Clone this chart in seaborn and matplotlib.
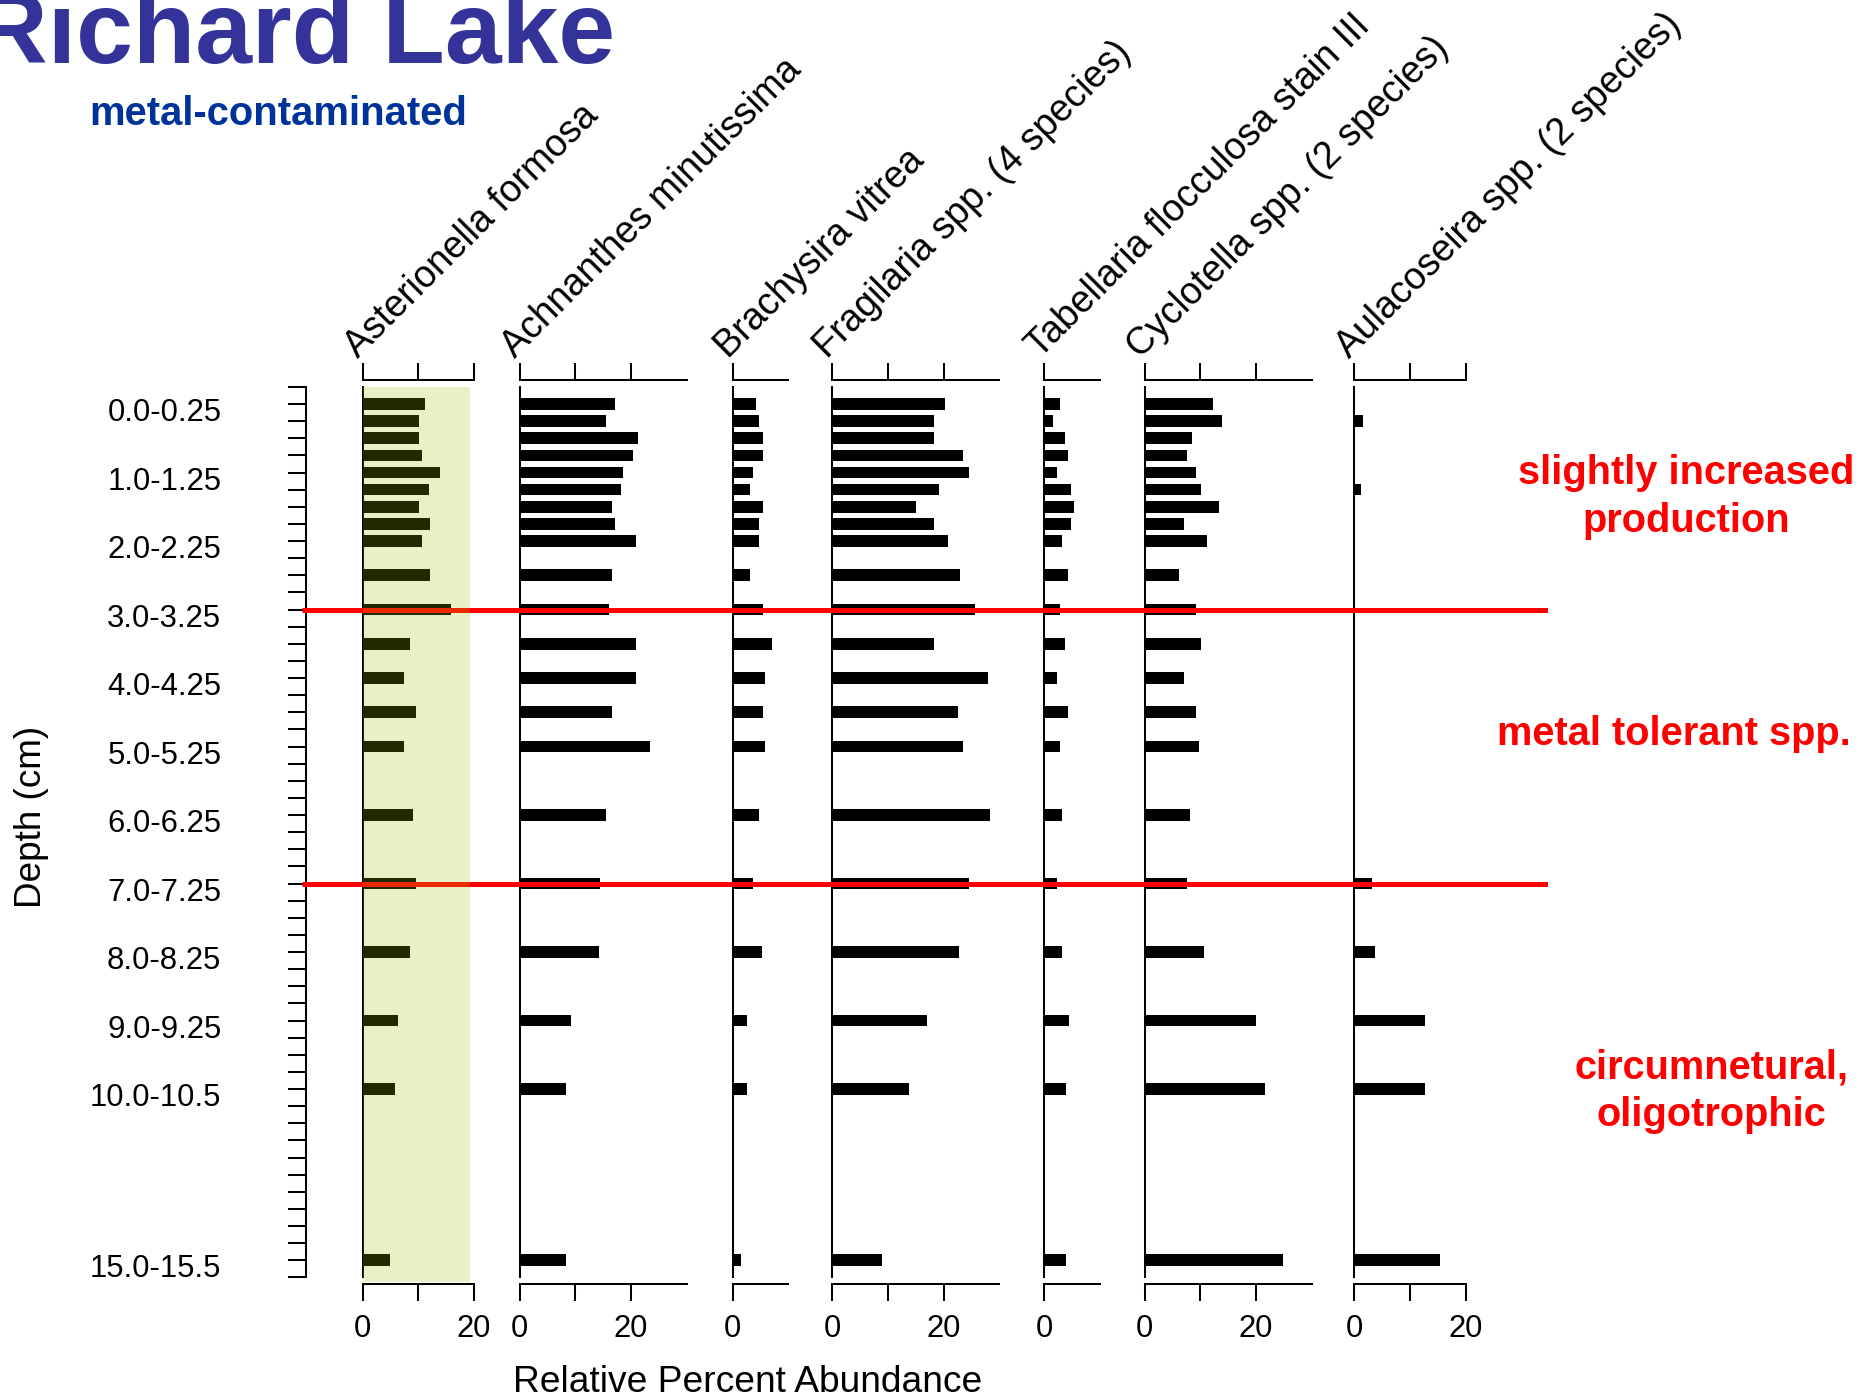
import numpy as np
import pandas as pd
import matplotlib
matplotlib.use("Agg")
import matplotlib.pyplot as plt
import matplotlib.transforms as mtransforms
from matplotlib.patches import Rectangle
import seaborn as sns

# ---- sediment core samples (depth of top of slice, cm) ----
depths = [0.0, 0.25, 0.5, 0.75, 1.0, 1.25, 1.5, 1.75, 2.0, 2.5, 3.0,
          3.5, 4.0, 4.5, 5.0, 6.0, 7.0, 8.0, 9.0, 10.0, 15.0]

label_depths = [0, 1, 2, 3, 4, 5, 6, 7, 8, 9, 10, 15]
depth_labels = ["0.0-0.25", "1.0-1.25", "2.0-2.25", "3.0-3.25", "4.0-4.25",
                "5.0-5.25", "6.0-6.25", "7.0-7.25", "8.0-8.25", "9.0-9.25",
                "10.0-10.5", "15.0-15.5"]

taxa = ["Asterionella formosa", "Achnanthes minutissima", "Brachysira vitrea",
        "Fragilaria spp. (4 species)", "Tabellaria flocculosa stain III",
        "Cyclotella spp. (2 species)", "Aulacoseira spp. (2 species)"]

# relative percent abundance per sample
asterionella = [11.2, 10.2, 10.2, 10.7, 13.8, 11.9, 10.2, 12.1, 10.7, 12.1, 15.8,
                8.5, 7.4, 9.6, 7.4, 9.1, 9.6, 8.5, 6.4, 5.9, 4.9]
achnanthes = [17.1, 15.5, 21.3, 20.3, 18.6, 18.2, 16.6, 17.1, 20.8, 16.6, 16.1,
              20.8, 20.8, 16.6, 23.4, 15.5, 14.4, 14.2, 9.2, 8.3, 8.3]
brachysira = [4.3, 4.8, 5.4, 5.4, 3.7, 3.2, 5.4, 4.8, 4.8, 3.2, 5.4,
              7.0, 5.9, 5.4, 5.9, 4.8, 3.7, 5.3, 2.6, 2.6, 1.6]
fragilaria = [20.3, 18.3, 18.3, 23.5, 24.6, 19.2, 15.0, 18.3, 20.8, 23.0, 25.7,
              18.3, 27.9, 22.5, 23.5, 28.4, 24.6, 22.7, 17.0, 13.8, 9.0]
tabellaria = [2.8, 1.7, 3.8, 4.3, 2.3, 4.8, 5.4, 4.8, 3.2, 4.3, 2.8,
              3.8, 2.3, 4.3, 2.8, 3.2, 2.3, 3.3, 4.4, 3.9, 3.9]
cyclotella = [12.3, 13.9, 8.6, 7.6, 9.2, 10.2, 13.4, 7.1, 11.2, 6.1, 9.2,
              10.2, 7.1, 9.2, 9.7, 8.1, 7.6, 10.6, 20.0, 21.6, 24.8]
aulacoseira = [0, 1.7, 0, 0, 0, 1.2, 0, 0, 0, 0, 0,
               0, 0, 0, 0, 0, 3.3, 3.8, 12.8, 12.8, 15.4]

axis_max = [20, 30, 10, 30, 10, 30, 20]

zone_boundaries = [3.0, 7.0]
zone_notes = ["slightly increased\nproduction", "metal tolerant spp.",
              "circumnetural,\noligotrophic"]
highlight_span = (0, 19.3)   # shaded range on the Asterionella panel

# ---- styling ----
sns.set_style("ticks", rc={"axes.edgecolor": "black", "xtick.color": "black",
                           "ytick.color": "black", "text.color": "black",
                           "axes.labelcolor": "black"})
plt.rcParams["font.family"] = ["Liberation Sans", "DejaVu Sans"]

W, H = 1862, 1398
fig = plt.figure(figsize=(W / 100, H / 100), dpi=100)


def fx(px):
    return px / W


def fy(px):
    return 1 - px / H


def depth_pos(d):
    # to scale down to 10 cm, the deepest interval drawn at half scale
    return np.interp(d, [0, 10, 15], [0, 10, 12.5])


pos_top, pos_bottom = -0.25, 12.75
y_top_px, y_bot_px = 386.9, 1277.4
ax_bottom = fy(y_bot_px)
ax_height = (y_bot_px - y_top_px) / H
px_per_unit = 5.58
panel_left_px = [362.5, 519.5, 732.5, 832, 1044, 1144.5, 1354]
LW = 1.45

samples = pd.DataFrame({"depth": depths})
samples["pos"] = depth_pos(samples["depth"].to_numpy())
series = [asterionella, achnanthes, brachysira, fragilaria,
          tabellaria, cyclotella, aulacoseira]

axes = []
for name, vals, xmax, left in zip(taxa, series, axis_max, panel_left_px):
    ax = fig.add_axes([fx(left), ax_bottom, xmax * px_per_unit / W, ax_height])
    df = samples.assign(pct=vals)
    sns.barplot(data=df, x="pct", y="pos", orient="y", native_scale=True,
                color="black", width=0.68, errorbar=None, saturation=1,
                linewidth=0, ax=ax)
    ax.set_xlim(0, xmax)
    ax.set_ylim(pos_bottom, pos_top)
    ax.set(xlabel="", ylabel="")
    ax.set_yticks([])
    ticks = [0, 10, 20] if xmax >= 20 else [0]
    ax.set_xticks(ticks)
    ax.set_xticklabels(["" if t == 10 else str(t) for t in ticks])
    ax.tick_params(axis="x", which="both", top=True, bottom=True,
                   labeltop=False, labelbottom=True, direction="out",
                   length=12, width=LW, labelsize=22.3, pad=9)
    ax.tick_params(axis="y", left=False, labelleft=False)
    ax.spines["right"].set_visible(False)
    for side in ("top", "bottom"):
        ax.spines[side].set_position(("outward", 5))
    for sp in ax.spines.values():
        sp.set_linewidth(LW)
    ax.patch.set_alpha(0)
    ax.annotate(name, xy=(0, 1), xycoords="axes fraction", xytext=(-3, 20),
                textcoords="offset points", rotation=45, rotation_mode="anchor",
                ha="left", va="baseline", fontsize=27)
    axes.append(ax)

# ---- depth axis ----
ax0 = fig.add_axes([fx(306), ax_bottom, 0.0005, ax_height])
ax0.set_ylim(pos_bottom, pos_top)
ax0.set_xticks([])
for side in ("right", "top", "bottom"):
    ax0.spines[side].set_visible(False)
ax0.spines["left"].set_linewidth(LW)
ax0.set_yticks(depth_pos(np.array(label_depths, dtype=float)))
ax0.set_yticklabels(depth_labels)
ax0.set_yticks(np.arange(pos_top, pos_bottom + 0.01, 0.25), minor=True)
ax0.tick_params(axis="y", which="both", direction="out", length=13, width=LW)
ax0.tick_params(axis="y", which="major", pad=48, labelsize=22.3)
ax0.patch.set_alpha(0)
shift = mtransforms.ScaledTranslation(0, -5.5 / 100, fig.dpi_scale_trans)
for lab in ax0.get_yticklabels():
    lab.set_transform(lab.get_transform() + shift)

# ---- zone boundaries across all panels ----
ax_zone = fig.add_axes([fx(302), ax_bottom, (1548 - 302) / W, ax_height])
ax_zone.set_xlim(0, 1)
ax_zone.set_ylim(pos_bottom, pos_top)
ax_zone.axis("off")
ax_zone.set_zorder(5)
for z in zone_boundaries:
    ax_zone.axhline(depth_pos(z), color="#FF0000", lw=3.6, solid_capstyle="butt")

# ---- shaded Asterionella column ----
trans = mtransforms.blended_transform_factory(axes[0].transData, axes[0].transAxes)
shade = Rectangle((highlight_span[0], -0.005), highlight_span[1] - highlight_span[0],
                  1.005, transform=trans, facecolor="#9BBF00", alpha=0.22,
                  edgecolor="none", zorder=10)
fig.add_artist(shade)

# ---- text ----
fig.text(fx(-26.5), fy(63), "Richard Lake", fontsize=73.5, fontweight="bold",
         color="#333399", ha="left", va="baseline")
fig.text(fx(89), fy(125), "metal-contaminated", fontsize=28.8, fontweight="bold",
         color="#003399", ha="left", va="baseline")
fig.text(fx(32), fy(817), "Depth (cm)", fontsize=26.6, rotation=90,
         ha="center", va="center")
fig.text(fx(748), fy(1382), "Relative Percent Abundance", fontsize=26.7,
         ha="center", va="center")

note_xy = [(1686, 497), (1674, 734), (1711, 1091)]
for txt, (x, y) in zip(zone_notes, note_xy):
    fig.text(fx(x), fy(y), txt, fontsize=28.6, fontweight="bold", color="#FF0000",
             ha="center", va="center", multialignment="center", linespacing=1.3)

fig.savefig("out.png", dpi=100)
